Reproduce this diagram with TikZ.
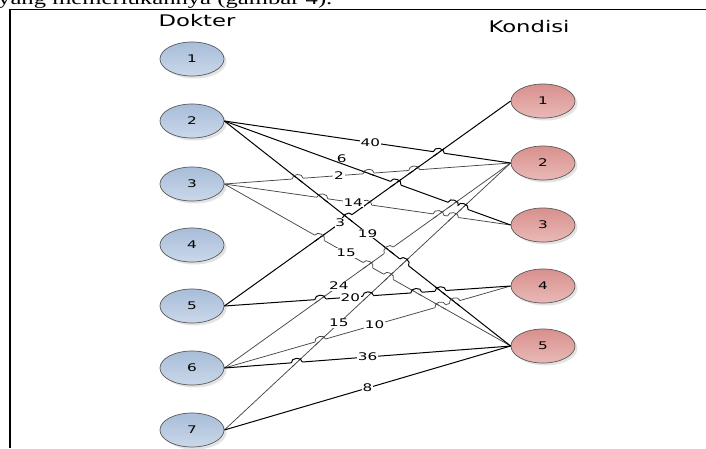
\documentclass[tikz,border=0pt]{standalone}
\usepackage{fontspec}
\setmainfont{DejaVu Sans}
\newfontfamily\serifbody{Liberation Serif}
\usetikzlibrary{shapes.geometric,shadows,intersections,calc}
\definecolor{bluetop}{HTML}{A8BDD9}
\definecolor{bluebot}{HTML}{CAD8EA}
\definecolor{redtop}{HTML}{D8908D}
\definecolor{redbot}{HTML}{E9B9B6}
\definecolor{rim}{HTML}{5A5A5A}
\definecolor{edgegray}{HTML}{474747}
\newcommand\widetxt[2][1.45]{\scalebox{#1}[1]{#2}}
\tikzset{
  basenode/.style={ellipse, minimum width=64pt, minimum height=34pt, inner sep=0pt,
    draw=rim, line width=0.7pt, font=\fontsize{10.5}{11}\selectfont,
    drop shadow={opacity=0.22, shadow xshift=2.5pt, shadow yshift=-2.5pt}},
  dnode/.style={basenode, top color=bluetop, bottom color=bluebot},
  knode/.style={basenode, top color=redtop, bottom color=redbot},
  heavy/.style={draw=black, line width=1pt},
  light/.style={draw=edgegray, line width=0.75pt},
  elabel/.style={fill=white, inner sep=0.8pt, font=\fontsize{10.5}{11}\selectfont},
  header/.style={font=\fontsize{16}{18}\selectfont, inner sep=0pt},
  sA/.style={heavy}, sB/.style={heavy}, sC/.style={heavy}, sD/.style={light},
  sE/.style={light}, sF/.style={light}, sG/.style={heavy}, sH/.style={heavy},
  sI/.style={light}, sJ/.style={light}, sK/.style={heavy}, sM/.style={light},
  sN/.style={heavy}
}
% line #1 jumps over line #2 where they cross
\newcommand\hop[2]{%
  \path[name intersections={of=e#1 and e#2, by=hx}];
  \coordinate (ha) at ($(hx)!5.5pt!(#10)$);
  \coordinate (hb) at ($(hx)!5.5pt!(#11)$);
  \draw[white, line width=2.2pt] (ha) -- (hb);
  \draw[s#2] ($(hx)!6.5pt!(#20)$) -- ($(hx)!6.5pt!(#21)$);
  \draw[s#1] (ha) .. controls ($(ha)!5.5pt!90:(hx)$) and ($(hb)!5.5pt!-90:(hx)$) .. (hb);
}
\begin{document}
\begin{tikzpicture}[x=1pt, y=-1pt]
\useasboundingbox (0,0) rectangle (706,448);
% cropped caption line and frame
\node[anchor=base west, inner sep=0pt, font=\serifbody\fontsize{18}{20}\selectfont] (cap) at (-2,4.5)
  {\widetxt[1.37]{yang memerlukannya (gambar 4).}};
\draw[line width=1.3pt] (10,448) -- (10,9.5) -- (706,9.5);
% headers
\node[header] (hd) at (197,21) {\widetxt[1.42]{Dokter}};
\node[header] (hk) at (529,27) {\widetxt[1.42]{Kondisi}};
% Dokter nodes
\node[dnode] (L1) at (192,59)  {\widetxt{1}};
\node[dnode] (L2) at (192,121) {\widetxt{2}};
\node[dnode] (L3) at (192,184) {\widetxt{3}};
\node[dnode] (L4) at (192,245) {\widetxt{4}};
\node[dnode] (L5) at (192,306) {\widetxt{5}};
\node[dnode] (L6) at (192,368) {\widetxt{6}};
\node[dnode] (L7) at (192,430) {\widetxt{7}};
% Kondisi nodes
\node[knode] (R1) at (543,101) {\widetxt{1}};
\node[knode] (R2) at (543,163) {\widetxt{2}};
\node[knode] (R3) at (543,225) {\widetxt{3}};
\node[knode] (R4) at (543,286) {\widetxt{4}};
\node[knode] (R5) at (543,346) {\widetxt{5}};
% connector ends
\coordinate (A0) at (L2.east); \coordinate (A1) at (R2.west);
\coordinate (B0) at (L2.east); \coordinate (B1) at (R3.west);
\coordinate (C0) at (L2.east); \coordinate (C1) at (R5.west);
\coordinate (D0) at (L3.east); \coordinate (D1) at (R2.west);
\coordinate (E0) at (L3.east); \coordinate (E1) at (R3.west);
\coordinate (F0) at (L3.east); \coordinate (F1) at (R5.west);
\coordinate (G0) at (L5.east); \coordinate (G1) at (R1.west);
\coordinate (H0) at (L5.east); \coordinate (H1) at (R4.west);
\coordinate (I0) at (L6.east); \coordinate (I1) at (R2.west);
\coordinate (J0) at (L6.east); \coordinate (J1) at (R4.west);
\coordinate (K0) at (L6.east); \coordinate (K1) at (R5.west);
\coordinate (M0) at (L7.east); \coordinate (M1) at (R2.west);
\coordinate (N0) at (L7.east); \coordinate (N1) at (R5.west);
% connectors
\draw[sD, name path=eD] (L3.east) -- (R2.west);
\draw[sE, name path=eE] (L3.east) -- (R3.west);
\draw[sF, name path=eF] (L3.east) -- (R5.west);
\draw[sI, name path=eI] (L6.east) -- (R2.west);
\draw[sJ, name path=eJ] (L6.east) -- (R4.west);
\draw[sM, name path=eM] (L7.east) -- (R2.west);
\draw[sA, name path=eA] (L2.east) -- (R2.west);
\draw[sB, name path=eB] (L2.east) -- (R3.west);
\draw[sC, name path=eC] (L2.east) -- (R5.west);
\draw[sG, name path=eG] (L5.east) -- (R1.west);
\draw[sH, name path=eH] (L5.east) -- (R4.west);
\draw[sK, name path=eK] (L6.east) -- (R5.west);
\draw[sN, name path=eN] (L7.east) -- (R5.west);
% line jumps
\hop{A}{G} \hop{D}{B} \hop{B}{G} \hop{B}{I} \hop{B}{M}
\hop{D}{C} \hop{E}{C} \hop{G}{C} \hop{H}{C} \hop{I}{C}
\hop{J}{C} \hop{C}{M} \hop{D}{G} \hop{E}{G} \hop{E}{I}
\hop{E}{M} \hop{F}{G} \hop{H}{F} \hop{F}{I} \hop{J}{F}
\hop{F}{M} \hop{H}{I} \hop{H}{M} \hop{J}{M} \hop{K}{M}
% labels
\path (L2.east) -- (R2.west) node[elabel, pos=0.51] (w22) {\widetxt{40}};
\path (L2.east) -- (R3.west) node[elabel, fill=none, pos=0.41, yshift=5pt] (w23) {\widetxt{6}};
\path (L2.east) -- (R5.west) node[elabel, pos=0.50] (w25) {\widetxt{19}};
\path (L3.east) -- (R2.west) node[elabel, pos=0.40] (w32) {\widetxt{2}};
\path (L3.east) -- (R3.west) node[elabel, pos=0.45] (w33) {\widetxt{14}};
\path (L3.east) -- (R5.west) node[elabel, pos=0.425] (w35) {\widetxt{15}};
\path (L5.east) -- (R1.west) node[elabel, pos=0.405] (w51) {\widetxt{3}};
\path (L5.east) -- (R4.west) node[elabel, pos=0.44] (w54) {\widetxt{20}};
\path (L6.east) -- (R2.west) node[elabel, pos=0.40] (w62) {\widetxt{24}};
\path (L6.east) -- (R4.west) node[elabel, pos=0.525] (w64) {\widetxt{10}};
\path (L6.east) -- (R5.west) node[elabel, pos=0.50] (w65) {\widetxt{36}};
\path (L7.east) -- (R2.west) node[elabel, pos=0.40] (w72) {\widetxt{15}};
\path (L7.east) -- (R5.west) node[elabel, pos=0.50] (w75) {\widetxt{8}};
\end{tikzpicture}
\end{document}
